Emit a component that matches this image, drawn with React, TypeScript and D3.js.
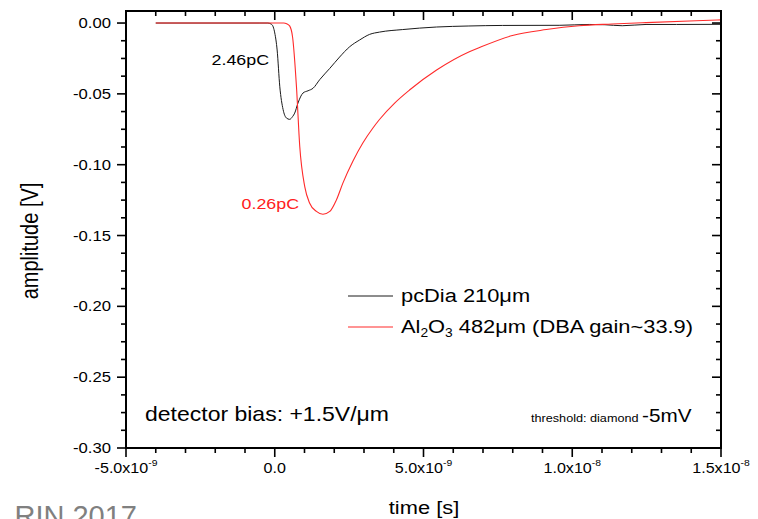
import React from 'react';
import * as d3 from 'd3';

// ---- data (time in ns, amplitude in V) ----
const timeNsBlack = [-4.0, -0.5, -0.23, -0.10, 0.0, 0.08, 0.17, 0.28, 0.39, 0.50, 0.60, 0.67, 0.78, 0.95, 1.12, 1.29, 1.51, 1.85, 2.18, 2.52, 2.85, 3.19, 3.52, 4.30, 5.44, 6.5, 7.65, 9.56, 10.57, 11.1, 11.68, 12.48, 13.5, 15.0];
const ampBlack = [0, 0, 0, -0.001, -0.007, -0.019, -0.045, -0.061, -0.067, -0.068, -0.066, -0.0636, -0.0565, -0.0494, -0.0478, -0.046, -0.040, -0.032, -0.024, -0.0167, -0.012, -0.0080, -0.0064, -0.0046, -0.0028, -0.0021, -0.0017, -0.0016, -0.0010, -0.0012, -0.0019, -0.0010, -0.0010, -0.0009];

const timeNsRed = [-4.0, 0.3, 0.40, 0.50, 0.60, 0.73, 0.84, 1.01, 1.17, 1.40, 1.62, 1.85, 2.07, 2.29, 2.63, 2.96, 3.30, 3.52, 4.03, 4.53, 5.44, 6.54, 6.88, 7.99, 9.13, 10.23, 11.34, 12.48, 14.16, 15.0];
const ampRed = [0, 0, -0.0005, -0.002, -0.010, -0.045, -0.087, -0.1156, -0.127, -0.133, -0.135, -0.133, -0.125, -0.113, -0.0974, -0.0847, -0.0741, -0.0681, -0.0565, -0.0473, -0.0332, -0.0203, -0.0173, -0.0088, -0.0046, -0.0019, -0.0007, 0.0003, 0.0016, 0.0022];

const xTickValues = [-5e-9, 0, 5e-9, 1e-8, 1.5e-8];
const xTickMantissa = ['-5.0x10', '0.0', '5.0x10', '1.0x10', '1.5x10'];
const xTickExponent = ['-9', '', '-9', '-8', '-8'];
const yTickValues = [0, -0.05, -0.1, -0.15, -0.2, -0.25, -0.3];
const yTickLabels = ['0.00', '-0.05', '-0.10', '-0.15', '-0.20', '-0.25', '-0.30'];

const W = 758;
const H = 519;
const SX = 1.15;
const FONT = "'Liberation Sans', Arial, sans-serif";

function SText({ x, y, anchor = 'start', size, fill = '#000', rotate = 0, children }: any) {
  return (
    <g transform={`translate(${x},${y}) scale(${SX},1) rotate(${rotate})`}>
      <text x={0} y={0} textAnchor={anchor} fontSize={size} fill={fill} fontFamily={FONT}>
        {children}
      </text>
    </g>
  );
}

export default function App() {
  const x = d3.scaleLinear().domain([-5e-9, 1.5e-8]).range([126, 721]);
  const y = d3.scaleLinear().domain([-0.3, 0.0085]).range([448, 11]);
  const line = d3
    .line<[number, number]>()
    .x((d) => x(d[0] * 1e-9))
    .y((d) => y(d[1]))
    .curve(d3.curveMonotoneX);

  const blackPts = timeNsBlack.map((t, i) => [t, ampBlack[i]] as [number, number]);
  const redPts = timeNsRed.map((t, i) => [t, ampRed[i]] as [number, number]);

  const [x0, x1] = x.range();
  const [y0, y1] = y.range(); // y0 bottom, y1 top

  const xMinor = d3.range(-5, 15.001, 1).map((v) => v * 1e-9).filter((v) => !xTickValues.some((m) => Math.abs(m - v) < 1e-12));
  const yMinor = d3.range(0, 25).map((i) => -i * 0.0125).filter((v) => !yTickValues.some((m) => Math.abs(m - v) < 1e-9));

  const MAJ = 9;
  const MIN = 5;

  return (
    <svg width={W} height={H} style={{ position: 'absolute', left: 0, top: 0, background: '#fff' }}>
      <rect x={0} y={0} width={W} height={H} fill="#fff" />

      {/* curves */}
      <path d={line(blackPts) || ''} fill="none" stroke="#1a1a1a" strokeWidth={1} />
      <path d={line(redPts) || ''} fill="none" stroke="#ff2a2a" strokeWidth={1.1} />

      {/* ticks */}
      <g stroke="#000" strokeWidth={1.6}>
        {xTickValues.map((v, i) => (
          <g key={'xm' + i}>
            <line x1={x(v)} x2={x(v)} y1={y0} y2={y0 + MAJ} />
            <line x1={x(v)} x2={x(v)} y1={y1} y2={y1 + MAJ} />
          </g>
        ))}
        {xMinor.map((v, i) => (
          <g key={'xn' + i}>
            <line x1={x(v)} x2={x(v)} y1={y0} y2={y0 + MIN} />
            <line x1={x(v)} x2={x(v)} y1={y1} y2={y1 + MIN} />
          </g>
        ))}
        {yTickValues.map((v, i) => (
          <g key={'ym' + i}>
            <line x1={x0} x2={x0 - MAJ} y1={y(v)} y2={y(v)} />
            <line x1={x1} x2={x1 - MAJ} y1={y(v)} y2={y(v)} />
          </g>
        ))}
        {yMinor.map((v, i) => (
          <g key={'yn' + i}>
            <line x1={x0} x2={x0 - MIN} y1={y(v)} y2={y(v)} />
            <line x1={x1} x2={x1 - MIN} y1={y(v)} y2={y(v)} />
          </g>
        ))}
      </g>

      {/* frame */}
      <rect x={x0} y={y1} width={x1 - x0} height={y0 - y1} fill="none" stroke="#000" strokeWidth={2} />

      {/* tick labels */}
      {yTickValues.map((v, i) => (
        <SText key={'yl' + i} x={111} y={y(v) + 5} anchor="end" size={14.5}>
          {yTickLabels[i]}
        </SText>
      ))}
      {xTickValues.map((v, i) => (
        <SText key={'xl' + i} x={x(v)} y={473} anchor="middle" size={14}>
          {xTickMantissa[i]}
          {xTickExponent[i] ? (
            <tspan fontSize={9} dy={-7}>{xTickExponent[i]}</tspan>
          ) : null}
        </SText>
      ))}

      {/* axis titles */}
      <SText x={424} y={514} anchor="middle" size={19}>time [s]</SText>
      <g transform={`translate(38,241) scale(${SX},1) rotate(-90)`}>
        <text x={0} y={0} textAnchor="middle" fontSize={20} fontFamily={FONT}>amplitude [V]</text>
      </g>

      {/* annotations */}
      <SText x={269} y={65} anchor="end" size={15.5}>2.46pC</SText>
      <SText x={299} y={209} anchor="end" size={15.5} fill="#ff2020">0.26pC</SText>

      {/* legend */}
      <line x1={348} x2={393} y1={296} y2={296} stroke="#1a1a1a" strokeWidth={1} />
      <SText x={401} y={302} size={19}>pcDia 210μm</SText>
      <line x1={348} x2={393} y1={327} y2={327} stroke="#ff2a2a" strokeWidth={1.1} />
      <SText x={401} y={333} size={19}>
        Al<tspan fontSize={12} dy={4}>2</tspan><tspan dy={-4}>O</tspan><tspan fontSize={12} dy={4}>3</tspan><tspan dy={-4}> 482μm (DBA gain~33.9)</tspan>
      </SText>

      {/* inner texts */}
      <SText x={145} y={421} size={20}>detector bias: +1.5V/μm</SText>
      <SText x={531} y={422} size={11}>threshold: diamond <tspan fontSize={18}>-5mV</tspan></SText>

      {/* cut-off footer */}
      <text x={137} y={526} textAnchor="end" fontSize={29} fill="#808080" fontFamily={FONT}>RIN 2017</text>
    </svg>
  );
}
